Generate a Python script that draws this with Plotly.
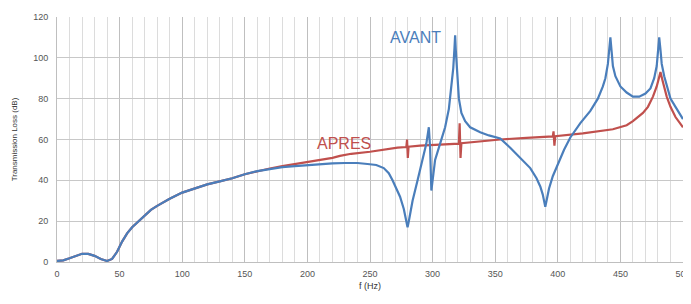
import plotly.graph_objects as go

# AVANT (blue) series
freq_avant = [0, 5, 10, 15, 20, 25, 30, 35, 40, 44, 48, 52, 56, 60, 65, 70, 75, 80, 90, 100,
              110, 120, 130, 140, 150, 160, 170, 180, 190, 200, 210, 220, 230, 240, 248, 255,
              261, 265, 268, 271, 274, 277, 279, 280, 281, 284, 288, 292, 295, 297, 298, 299,
              300, 302, 306, 310, 313, 315, 316.5, 317.5, 318, 318.5, 319.5, 321, 323, 326, 330,
              338, 345, 354, 362, 370, 378, 383, 386, 388, 390, 391, 393, 396, 400, 405, 410,
              418, 426, 432, 436, 438, 440, 441, 442, 443, 444, 446, 450, 455, 460, 465, 470,
              474, 477, 479, 480, 481, 482, 483, 485, 487, 490, 494, 498, 500]
avant = [0.5, 0.8, 1.8, 3, 4, 4, 3, 1.5, 0.5, 1.5, 5, 10, 14, 17, 20, 23, 25.5, 27.5, 31, 34,
         36, 38, 39.5, 41, 43, 44.5, 45.5, 46.5, 47, 47.5, 48, 48.3, 48.5, 48.5, 48, 47.5,
         46, 43.5, 40, 36, 32, 26, 20, 17, 20, 30, 40, 50, 58, 66, 56, 35,
         40, 50, 58, 66, 75, 85, 95, 105, 111, 104, 92, 80, 73, 69, 66,
         63.5, 62, 60.5, 56, 51, 46, 41, 37, 33, 27, 30, 36, 42, 48, 55, 61,
         68, 74, 80, 86, 90, 97, 103, 110, 103, 96, 91, 86, 83, 81, 81, 82.5,
         85, 90, 96, 102, 110, 104, 97, 91, 86, 80, 76, 72, 70]

# APRES (red) series
freq_apres = [0, 5, 10, 15, 20, 25, 30, 35, 40, 44, 48, 52, 56, 60, 65, 70, 75, 80, 90, 100,
              110, 120, 130, 140, 150, 160, 170, 180, 190, 200, 210, 220, 226, 235, 250, 260,
              272, 279, 279.6, 280.2, 280.8, 290, 300, 310, 321, 321.6, 322.3, 323, 335, 354,
              375, 396, 396.6, 397.3, 398, 420, 444, 450, 455, 460, 464, 468, 472, 476, 479,
              481, 482, 484, 487, 490, 494, 500]
apres = [0.5, 0.8, 1.8, 3, 4, 4, 3, 1.5, 0.5, 1.5, 5, 10, 14, 17, 20, 23, 25.5, 27.5, 31, 34,
         36, 38, 39.5, 41, 43, 44.5, 45.8, 47, 48, 49, 50, 51, 52, 53, 54, 55,
         56, 56.3, 60, 51, 56.5, 57, 57.3, 57.6, 58, 68, 51, 58.2, 59, 60,
         60.8, 61.5, 64, 57, 61.6, 63, 65, 66, 67, 69, 71, 73, 76, 81, 86,
         91, 93, 88, 81, 76, 71, 66]

blue = "#4a7ebb"
red = "#c0504d"

fig = go.Figure()
fig.add_trace(go.Scatter(x=freq_apres, y=apres, mode="lines", name="APRES",
                         line=dict(color=red, width=2.2)))
fig.add_trace(go.Scatter(x=freq_avant, y=avant, mode="lines", name="AVANT",
                         line=dict(color=blue, width=2.2)))

fig.add_annotation(x=286, y=110, text="AVANT", showarrow=False,
                   font=dict(color=blue, size=16, family="Liberation Sans"))
fig.add_annotation(x=229, y=58, text="APRES", showarrow=False,
                   font=dict(color=red, size=16, family="Liberation Sans"))

# The page has an 8px body margin, so margins compensate for that offset
fig.update_layout(
    width=691, height=304,
    margin=dict(l=49, r=16, t=9, b=50),
    paper_bgcolor="white", plot_bgcolor="white",
    showlegend=False,
    font=dict(family="Liberation Sans", size=9, color="#555555"),
)
fig.update_xaxes(
    range=[0, 500], dtick=50, tick0=0, automargin=False,
    showgrid=True, gridcolor="#bfbfbf", gridwidth=1,
    minor=dict(dtick=10, showgrid=True, gridcolor="#dcdcdc", gridwidth=1),
    zeroline=False, showline=True, linecolor="#bfbfbf",
    ticks="", tickfont=dict(size=9, color="#555555"), ticklabelstandoff=3,
    title=dict(text="f (Hz)", font=dict(size=9, color="#333333"), standoff=4),
)
fig.update_yaxes(
    range=[0, 120], dtick=20, tick0=0, automargin=False,
    showgrid=True, gridcolor="#c8c8c8", gridwidth=1,
    zeroline=False, showline=True, linecolor="#bfbfbf",
    ticks="", tickfont=dict(size=9, color="#555555"), ticklabelstandoff=6,
    title=dict(text="Transmission Loss (dB)", font=dict(size=8, color="#333333"), standoff=14),
)

fig.write_html("out.html")
